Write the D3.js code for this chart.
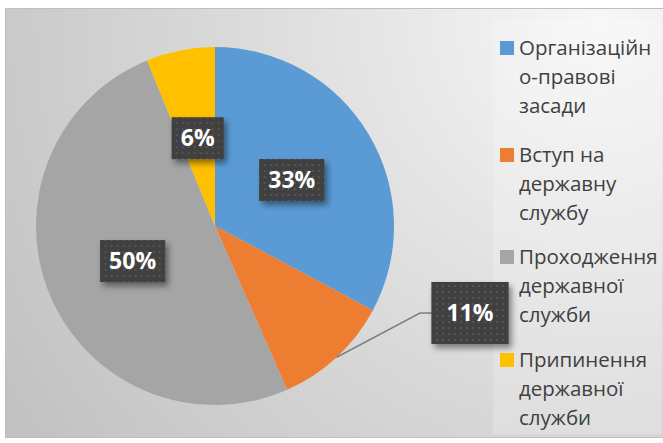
<!DOCTYPE html>
<html>
<head>
<meta charset="utf-8">
<script src="https://cdn.jsdelivr.net/npm/d3@7"></script>
<style>
  html, body { margin: 0; padding: 0; background: #fff; }
  svg { display: block; }
</style>
</head>
<body>
<div id="chart"></div>
<script>
// share of each section
let categories = ["Організаційно-правові засади", "Вступ на державну службу", "Проходження державної служби", "Припинення державної служби"];
let values = [32.8, 10.6, 50.4, 6.2];
let colors = ["#5B9BD5", "#ED7D31", "#A5A5A5", "#FFC000"];
// legend text is wrapped the same way as in the original
let legendLines = [
    ["Організаційн", "о-правові", "засади"],
    ["Вступ на", "державну", "службу"],
    ["Проходження", "державної", "служби"],
    ["Припинення", "державної", "служби"]
];

const width = 663, height = 443;
const cx = 215, cy = 226, radius = 179;

let svg = d3.select('#chart').append('svg')
    .attr('width', width)
    .attr('height', height);

let defs = svg.append('defs');

let bg = defs.append('radialGradient')
    .attr('id', 'bg-grad')
    .attr('gradientUnits', 'userSpaceOnUse')
    .attr('cx', 600).attr('cy', 20).attr('r', 700);
bg.append('stop').attr('offset', '0%').attr('stop-color', '#f7f7f7');
bg.append('stop').attr('offset', '55%').attr('stop-color', '#d9d9d9');
bg.append('stop').attr('offset', '100%').attr('stop-color', '#c2c2c2');

let pattern = defs.append('pattern')
    .attr('id', 'dots')
    .attr('patternUnits', 'userSpaceOnUse')
    .attr('width', 6).attr('height', 6);
pattern.append('rect').attr('width', 6).attr('height', 6).attr('fill', '#3f3f3f');
pattern.append('rect').attr('x', 2).attr('y', 2).attr('width', 2).attr('height', 2).attr('fill', '#555');

let shadow = defs.append('filter')
    .attr('id', 'shadow')
    .attr('x', '-30%').attr('y', '-30%').attr('width', '170%').attr('height', '170%');
shadow.append('feDropShadow')
    .attr('dx', 3).attr('dy', 4).attr('stdDeviation', 3)
    .attr('flood-color', '#000').attr('flood-opacity', 0.45);

// chart area
svg.append('rect')
    .attr('x', 5.5).attr('y', 8.5)
    .attr('width', width - 5).attr('height', 429)
    .attr('fill', 'url(#bg-grad)')
    .attr('stroke', '#bfbfbf')
    .attr('stroke-width', 1);

let pie = d3.pie().sort(null).value(d => d);
let arcs = pie(values);

let arc = d3.arc().innerRadius(0).outerRadius(radius);
let labelArc = d3.arc().innerRadius(radius * 0.5).outerRadius(radius * 0.5);

let g = svg.append('g').attr('transform', `translate(${cx},${cy})`);

g.selectAll('path')
    .data(arcs)
    .join('path')
    .attr('d', arc)
    .attr('fill', (d, i) => colors[i]);

// legend panel
svg.append('rect')
    .attr('x', 493).attr('y', 20)
    .attr('width', 168).attr('height', 414)
    .attr('fill', '#ffffff')
    .attr('fill-opacity', 0.2);

// leader line for the small orange slice
const outsideIndex = 1;
let od = arcs[outsideIndex];
let edge = d3.arc().innerRadius(radius).outerRadius(radius).centroid(od);
let callout = [cx + 255, cy + 87];
let elbow = [callout[0] - 50, callout[1]];

svg.append('polyline')
    .attr('points', [[cx + edge[0], cy + edge[1]], elbow, [callout[0] - 38, callout[1]]].map(p => p.join(',')).join(' '))
    .attr('fill', 'none')
    .attr('stroke', '#7f7f7f')
    .attr('stroke-width', 1.5);

let labels = svg.append('g');

arcs.forEach((d, i) => {
    let pos;
    let padX = 9, padY = 10;
    if (i === outsideIndex) {
        pos = callout;
        padX = 15; padY = 20;
    } else {
        let c = labelArc.centroid(d);
        pos = [cx + c[0], cy + c[1]];
    }
    let lg = labels.append('g').attr('transform', `translate(${pos[0]},${pos[1]})`);
    let box = lg.append('rect').attr('fill', 'url(#dots)').attr('filter', 'url(#shadow)');
    let t = lg.append('text')
        .attr('text-anchor', 'middle')
        .attr('dy', '0.36em')
        .attr('fill', '#fff')
        .attr('font-family', 'Open Sans, sans-serif')
        .attr('font-weight', 'bold')
        .attr('font-size', 23)
        .text(Math.round(d.value) + '%');
    let b = t.node().getBBox();
    let h = 22;
    box.attr('x', -b.width / 2 - padX)
        .attr('y', -h / 2 - padY)
        .attr('width', b.width + padX * 2)
        .attr('height', h + padY * 2);
});

// legend
let legend = svg.append('g').attr('transform', 'translate(500,0)');
let lineH = 29;
let groupTops = [48, 155, 257, 360];

legendLines.forEach((lines, i) => {
    let row = legend.append('g').attr('transform', `translate(0,${groupTops[i]})`);
    row.append('rect')
        .attr('x', 0).attr('y', -7)
        .attr('width', 14).attr('height', 14)
        .attr('fill', colors[i]);
    row.append('text')
        .attr('x', 19)
        .attr('fill', '#404040')
        .attr('font-family', 'Open Sans, sans-serif')
        .attr('font-size', 20.5)
        .selectAll('tspan')
        .data(lines)
        .join('tspan')
        .attr('x', 19)
        .attr('y', (d, j) => j * lineH)
        .attr('dy', '0.36em')
        .text(d => d);
});
</script>
</body>
</html>
